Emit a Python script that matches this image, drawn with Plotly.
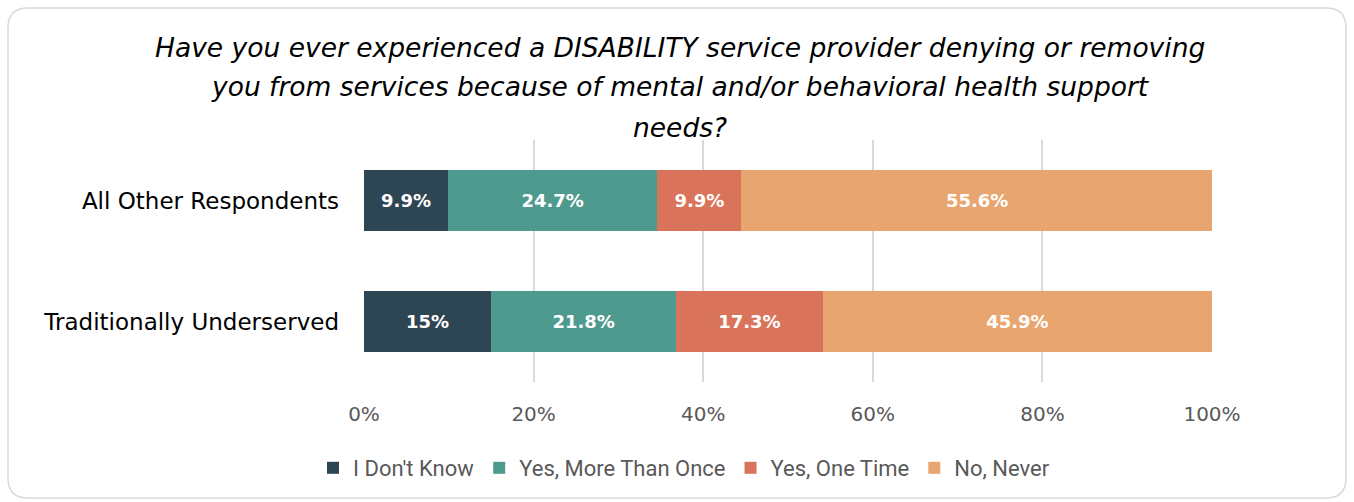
import plotly.graph_objects as go

# Survey groups (listed bottom-to-top for the horizontal axis)
groups = ["Traditionally Underserved", "All Other Respondents"]

# Share of responses per answer, in percent
dont_know = [15, 9.9]
more_than_once = [21.8, 24.7]
one_time = [17.3, 9.9]
never = [45.9, 55.6]

series_names = ["I Don't Know", "Yes, More Than Once", "Yes, One Time", "No, Never"]
series_values = [dont_know, more_than_once, one_time, never]
series_colors = ["#2e4553", "#4f9a8e", "#d9745a", "#e9a56f"]

tick_vals = [0, 20, 40, 60, 80, 100]
tick_text = ["0%", "20%", "40%", "60%", "80%", "100%"]

title_lines = [
    "Have you ever experienced a DISABILITY service provider denying or removing",
    "you from services because of mental and/or behavioral health support",
    "needs?",
]

SANS = "DejaVu Sans, Verdana, sans-serif"

fig = go.Figure()
for name, vals, color in zip(series_names, series_values, series_colors):
    fig.add_trace(go.Bar(
        y=groups, x=vals, name=name, orientation="h",
        marker=dict(color=color, line=dict(width=0)),
        texttemplate="%{x}%", textposition="inside", insidetextanchor="middle",
        textfont=dict(family=SANS, size=18, color="white", weight="bold"),
        hoverinfo="skip",
    ))

W, H = 1354, 502
L, R, T, B = 364, 142, 140, 120
pw, ph = W - L - R, H - T - B

def px(x):
    return (x - L) / pw

def py(y):
    return (H - B - y) / ph

# Rounded card border around the whole chart
x0, x1, y0, y1 = px(8), px(1346), py(8), py(498)
rx, ry = 20 / pw, 20 / ph
path = (f"M {x0+rx},{y0} L {x1-rx},{y0} Q {x1},{y0} {x1},{y0-ry} "
        f"L {x1},{y1+ry} Q {x1},{y1} {x1-rx},{y1} "
        f"L {x0+rx},{y1} Q {x0},{y1} {x0},{y1+ry} "
        f"L {x0},{y0-ry} Q {x0},{y0} {x0+rx},{y0} Z")

# Title drawn line by line for wider line spacing
title_annotations = [
    dict(text=line, xref="paper", yref="paper", x=px(680), y=py(47 + 40 * i),
         xanchor="center", yanchor="middle", showarrow=False,
         font=dict(size=26.5, color="#000000", family=SANS, style="italic"))
    for i, line in enumerate(title_lines)
]

fig.update_layout(
    width=W, height=H,
    margin=dict(l=L, r=R, t=T, b=B),
    barmode="stack", bargap=0.49,
    plot_bgcolor="white", paper_bgcolor="white",
    font=dict(family=SANS, color="#595959"),
    xaxis=dict(range=[0, 100], tickvals=tick_vals, ticktext=tick_text,
               showgrid=True, gridcolor="#d9d9d9", gridwidth=2, zeroline=False,
               showline=False, ticks="", ticklabelstandoff=18,
               tickfont=dict(size=20, color="#595959")),
    yaxis=dict(showgrid=False, zeroline=False, showline=False, ticks="",
               ticklabelstandoff=24,
               tickfont=dict(size=23, color="#000000")),
    legend=dict(orientation="h", x=px(684), xanchor="center", y=py(468), yanchor="middle",
                font=dict(size=22, color="#595959", family="Roboto, sans-serif"),
                traceorder="normal", itemclick=False),
    showlegend=True,
    shapes=[dict(type="path", xref="paper", yref="paper", path=path,
                 line=dict(color="#d9d9d9", width=1.5), fillcolor="rgba(0,0,0,0)", layer="below")],
    annotations=title_annotations,
)

fig.write_html("out.html")
